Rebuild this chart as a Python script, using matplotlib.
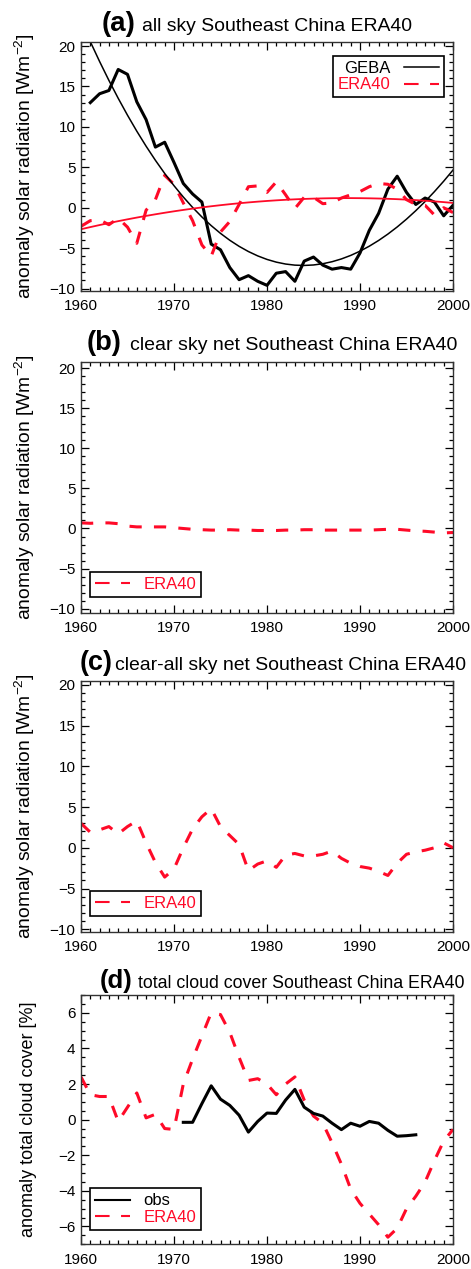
import numpy as np
import matplotlib
matplotlib.use("Agg")
import matplotlib.pyplot as plt
from matplotlib.lines import Line2D
from matplotlib.ticker import MultipleLocator

plt.rcParams['font.family'] = ['Liberation Sans', 'DejaVu Sans']
plt.rcParams['mathtext.fontset'] = 'custom'
plt.rcParams['mathtext.rm'] = 'Liberation Sans'
plt.rcParams['mathtext.it'] = 'Liberation Sans:italic'

# data
years = np.arange(1960, 2001)
geba_years = np.arange(1961, 2001)
geba_allsky = [13.0, 14.1, 14.5, 17.1, 16.5, 13.1, 10.9, 7.5, 8.1, 5.6,
               3.0, 1.7, 0.7, -4.5, -5.2, -7.4, -8.9, -8.4, -9.1, -9.6,
               -8.1, -7.9, -9.1, -6.6, -6.1, -7.1, -7.6, -7.4, -7.6, -5.6,
               -2.8, -0.7, 2.3, 3.9, 1.9, 0.4, 1.2, 0.7, -1.0, 0.3]
era_allsky = [-2.3, -1.6, -1.5, -2.1, -1.3, -2.4, -4.4, -0.3, 1.0, 4.0,
              2.9, 0.6, -1.6, -4.6, -6.0, -3.0, -1.7, 0.4, 2.6, 2.7,
              1.9, 3.2, 1.6, -0.1, 1.3, 1.3, 0.5, 0.6, 1.2, 1.6,
              2.0, 2.6, 3.0, 2.9, 2.3, 1.0, 0.4, 0.3, -0.9, 0.0, -0.6]
era_clearsky = [0.7, 0.65, 0.7, 0.7, 0.6, 0.3, 0.2, 0.2, 0.2, 0.2,
                0.1, 0.0, -0.1, -0.15, -0.2, -0.2, -0.15, -0.2, -0.2, -0.25,
                -0.25, -0.25, -0.2, -0.2, -0.15, -0.15, -0.2, -0.2, -0.2, -0.2,
                -0.2, -0.2, -0.15, -0.1, -0.1, -0.2, -0.3, -0.35, -0.45, -0.55, -0.5]
era_clear_minus_all = [3.0, 1.9, 2.2, 2.6, 1.7, 2.6, 3.3, 0.6, -1.8, -3.6,
                       -2.6, 0.0, 2.3, 3.8, 4.8, 2.6, 1.5, 0.4, -2.8, -2.0,
                       -1.6, -2.4, -0.9, -0.7, -1.0, -1.0, -0.8, -0.4, -1.3, -1.9,
                       -2.3, -2.5, -2.9, -3.4, -1.9, -0.8, -0.5, -0.3, 0.0, 0.6, 0.0]
obs_years = np.arange(1971, 1997)
cloud_obs = [-0.15, -0.15, 0.9, 1.9, 1.15, 0.8, 0.25, -0.7, -0.1, 0.37,
             0.35, 1.1, 1.7, 0.7, 0.35, 0.2, -0.2, -0.56, -0.2, -0.37,
             -0.1, -0.2, -0.6, -0.93, -0.9, -0.85]
cloud_era = [2.4, 1.4, 1.3, 1.3, -0.1, 0.7, 1.5, 0.1, 0.3, -0.5,
             -0.55, 2.0, 3.4, 4.7, 6.0, 5.9, 4.9, 3.5, 2.2, 2.3,
             2.0, 1.4, 2.0, 2.4, 1.1, 0.2, -0.2, -1.3, -2.5, -3.9,
             -4.7, -5.3, -5.9, -6.6, -6.1, -5.0, -4.3, -3.5, -2.3, -1.2, -0.55]

RED = '#ff0a28'
DASH = (0, (4, 4))
LEG_DASH = (0, (7, 5.5))
W, H = 471, 1269

fig = plt.figure(figsize=(W / 100, H / 100), dpi=100)
renderer = fig.canvas.get_renderer()


def fit_width(t, target):
    w = t.get_window_extent(renderer).width
    t.set_fontsize(t.get_fontsize() * target / w)


def fit_height(t, target):
    h = t.get_window_extent(renderer).height
    t.set_fontsize(t.get_fontsize() * target / h)


def add_panel(top, bottom):
    return fig.add_axes([81 / W, 1 - bottom / H, 372 / W, (bottom - top) / H])


def style_axis(ax, ymin, ymax, major, minor):
    ax.set_xlim(1960, 2000)
    ax.set_ylim(ymin, ymax)
    ax.xaxis.set_major_locator(MultipleLocator(10))
    ax.xaxis.set_minor_locator(MultipleLocator(1))
    ax.yaxis.set_major_locator(MultipleLocator(major))
    ax.yaxis.set_minor_locator(MultipleLocator(minor))
    ax.tick_params(which='both', direction='in', top=True, right=True,
                   labelsize=11, width=0.9)
    ax.tick_params(which='major', length=6, pad=4)
    ax.tick_params(axis='x', which='major', pad=6)
    ax.tick_params(which='minor', length=3)
    for s in ax.spines.values():
        s.set_linewidth(1.0)
        s.set_color('#333333')


def title(letter, text, xl, wl, xt, wt, y):
    t1 = fig.text(xl / W, 1 - y / H, letter, fontsize=17, fontweight='bold',
                  ha='left', va='baseline')
    t2 = fig.text(xt / W, 1 - y / H, text, fontsize=13, ha='left',
                  va='baseline')
    fit_width(t1, wl)
    fit_width(t2, wt)


def ylab(ax, text, length, right_px):
    lab = ax.set_ylabel(text, fontsize=12)
    fit_height(lab, length)
    ax.yaxis.set_label_coords((right_px - 81) / 372, 0.5)


def legend(ax, handles, labels, colors, loc, anchor, first=True):
    leg = ax.legend(handles, labels, loc=loc, bbox_to_anchor=anchor,
                    markerfirst=first, fontsize=12, labelcolor=colors,
                    fancybox=False, framealpha=1, edgecolor='black',
                    handlelength=2.1, borderpad=0.3, labelspacing=0.1,
                    handletextpad=0.8, borderaxespad=0)
    leg.get_frame().set_linewidth(1.2)


solar_label = r'anomaly solar radiation [Wm$^{-2}$]'
era_handle = Line2D([], [], color=RED, lw=1.5, ls=LEG_DASH)

# (a)
ax = add_panel(42, 291)
ax.plot(geba_years, geba_allsky, color='black', lw=2.2)
ax.plot(years, era_allsky, color=RED, lw=2.2, ls=DASH)
fit_geba = np.polyval(np.polyfit(geba_years, geba_allsky, 3), years)
fit_era = np.polyval(np.polyfit(years, era_allsky, 2), years)
ax.plot(years, fit_geba, color='black', lw=1.1)
ax.plot(years, fit_era, color=RED, lw=1.3)
style_axis(ax, -10.3, 20.5, 5, 1)
ylab(ax, solar_label, 266, 37)
legend(ax, [Line2D([], [], color='black', lw=1.1), era_handle],
       ['GEBA', 'ERA40'], ['black', RED], 'upper right', (0.975, 0.945),
       first=False)
title('(a)', 'all sky Southeast China ERA40', 102, 34, 142, 269, 31)

# (b)
ax = add_panel(361.7, 612.7)
ax.plot(years, era_clearsky, color=RED, lw=2.2, ls=DASH)
style_axis(ax, -10.5, 20.8, 5, 1)
ylab(ax, solar_label, 266, 37)
legend(ax, [era_handle], ['ERA40'], [RED], 'lower left', (0.024, 0.063))
title('(b)', 'clear sky net Southeast China ERA40', 87, 35, 130, 325, 350)

# (c)
ax = add_panel(680.7, 931.7)
ax.plot(years, era_clear_minus_all, color=RED, lw=2.2, ls=DASH)
style_axis(ax, -10.3, 20.5, 5, 1)
ylab(ax, solar_label, 266, 37)
legend(ax, [era_handle], ['ERA40'], [RED], 'lower left', (0.024, 0.063))
title('(c)', 'clear-all sky net Southeast China ERA40', 80, 33, 115, 350, 670)

# (d)
ax = add_panel(995, 1244.3)
ax.plot(years, cloud_era, color=RED, lw=2.2, ls=DASH)
ax.plot(obs_years, cloud_obs, color='black', lw=2.2)
style_axis(ax, -7, 7, 2, 0.5)
ylab(ax, 'anomaly total cloud cover [%]', 236, 37)
legend(ax, [Line2D([], [], color='black', lw=1.5), era_handle],
       ['obs', 'ERA40'], ['black', RED], 'lower left', (0.024, 0.057))
title('(d)', 'total cloud cover Southeast China ERA40', 100, 33, 138, 325, 988)

fig.savefig('out.png', dpi=100)
